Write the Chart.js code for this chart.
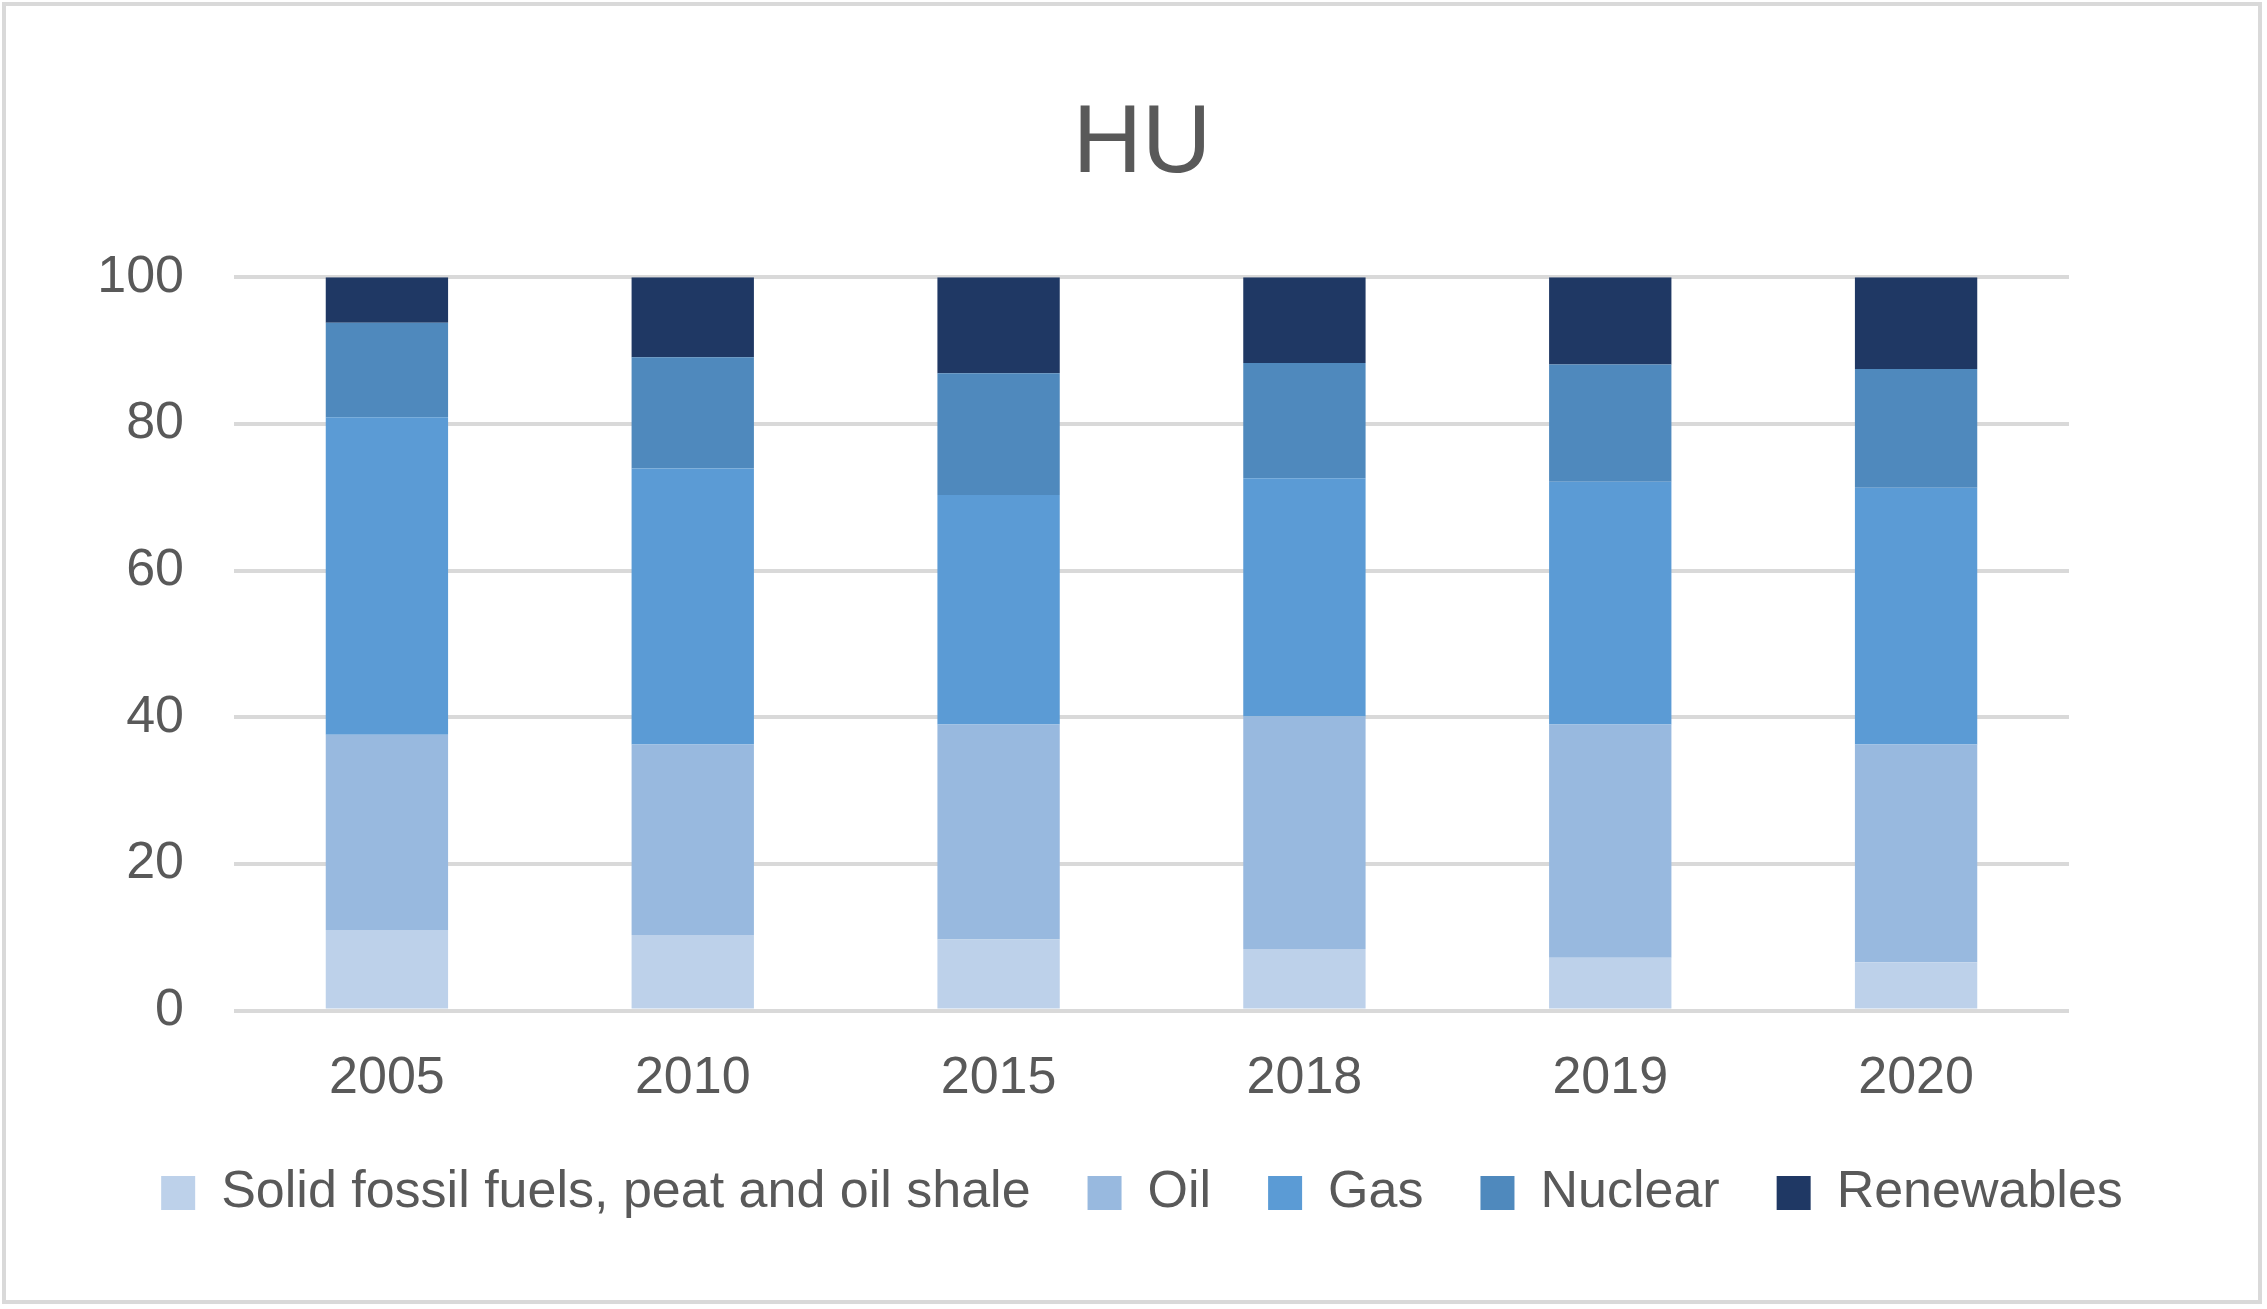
<!DOCTYPE html>
<html>
<head>
<meta charset="utf-8">
<script src="https://cdn.jsdelivr.net/npm/chart.js@4.4.1/dist/chart.umd.min.js"></script>
<style>
  html, body { margin: 0; padding: 0; background: #ffffff; }
  canvas { display: block; }
</style>
</head>
<body>
<canvas id="c" width="2267" height="1309"></canvas>
<script>
const years = ['2005', '2010', '2015', '2018', '2019', '2020'];
const solidFossil = [11.0, 10.3, 9.7, 8.4, 7.2, 6.6];
const oil = [26.6, 26.0, 29.3, 31.7, 31.8, 29.7];
const gas = [43.3, 37.6, 31.3, 32.5, 33.1, 35.0];
const nuclear = [12.9, 15.2, 16.6, 15.7, 16.0, 16.2];
const renewables = [6.2, 10.9, 13.1, 11.7, 11.9, 12.5];
const yTicks = [0, 20, 40, 60, 80, 100];

const FONT = '"Liberation Sans", Arial, sans-serif';
const TXT = '#595959';

const borderPlugin = {
  id: 'frame',
  beforeDraw(chart) {
    const ctx = chart.ctx;
    ctx.save();
    ctx.fillStyle = '#ffffff';
    ctx.fillRect(0, 0, chart.width, chart.height);
    ctx.restore();
  },
  afterDraw(chart) {
    const ctx = chart.ctx;
    ctx.save();
    ctx.strokeStyle = '#d9d9d9';
    ctx.lineWidth = 4;
    ctx.strokeRect(4, 4, chart.width - 11, chart.height - 11);
    ctx.restore();
  }
};

new Chart(document.getElementById('c'), {
  type: 'bar',
  data: {
    labels: years,
    datasets: [
      { label: 'Solid fossil fuels, peat and oil shale', data: solidFossil, backgroundColor: '#bdd1ea' },
      { label: 'Oil', data: oil, backgroundColor: '#98b9df' },
      { label: 'Gas', data: gas, backgroundColor: '#5b9bd5' },
      { label: 'Nuclear', data: nuclear, backgroundColor: '#4f89bd' },
      { label: 'Renewables', data: renewables, backgroundColor: '#1f3864' }
    ]
  },
  options: {
    responsive: false,
    devicePixelRatio: 1,
    animation: false,
    layout: { padding: { left: 17, right: 0, top: 0, bottom: 80 } },
    datasets: { bar: { categoryPercentage: 1.0, barPercentage: 0.4, borderWidth: 0 } },
    scales: {
      x: {
        stacked: true,
        grid: { display: false, drawTicks: true, tickLength: 37 },
        border: { display: false },
        ticks: { color: TXT, font: { family: FONT, size: 52 }, padding: 0, maxRotation: 0 }
      },
      y: {
        stacked: true,
        position: 'left',
        min: 0,
        max: 100,
        afterFit(scale) { scale.width = 217; },
        afterBuildTicks(scale) { scale.ticks = yTicks.map(v => ({ value: v })); },
        grid: { color: '#d9d9d9', lineWidth: 4, drawTicks: false },
        border: { display: false },
        ticks: { color: TXT, font: { family: FONT, size: 52 }, padding: 50 }
      },
      yRight: {
        position: 'right',
        min: 0,
        max: 100,
        afterFit(scale) { scale.width = 198; },
        grid: { display: false, drawTicks: false },
        border: { display: false },
        ticks: { display: false }
      }
    },
    plugins: {
      tooltip: { enabled: false },
      title: {
        display: true,
        text: 'HU',
        color: TXT,
        font: { family: FONT, size: 96, weight: 'normal', lineHeight: 1.2 },
        padding: { top: 88, bottom: 74 }
      },
      legend: {
        display: true,
        position: 'bottom',
        labels: {
          color: TXT,
          font: { family: FONT, size: 52 },
          boxWidth: 34,
          boxHeight: 34,
          padding: 57
        }
      }
    }
  },
  plugins: [borderPlugin]
});
</script>
</body>
</html>
